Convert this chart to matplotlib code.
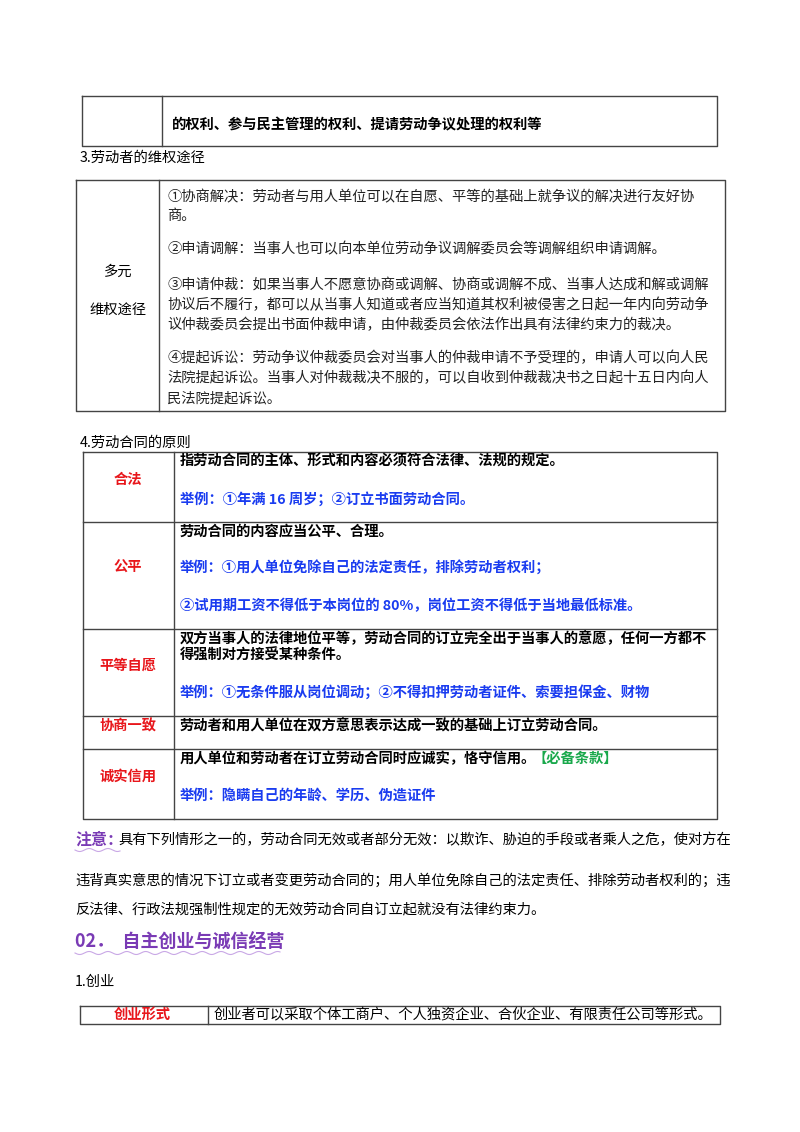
import numpy as np
import matplotlib.pyplot as plt

plt.rcParams['font.family'] = ['Noto Sans CJK SC', 'DejaVu Sans']

RED = "#e8161b"
BLUE = "#1a3cf0"
GREEN = "#19a84b"
PURPLE = "#7a3bb5"

top_row_text = "的权利、参与民主管理的权利、提请劳动争议处理的权利等"

weiquan_title = ["多元", "维权途径"]
weiquan_lines = [
    "①协商解决：劳动者与用人单位可以在自愿、平等的基础上就争议的解决进行友好协",
    "商。",
    "②申请调解：当事人也可以向本单位劳动争议调解委员会等调解组织申请调解。",
    "③申请仲裁：如果当事人不愿意协商或调解、协商或调解不成、当事人达成和解或调解",
    "协议后不履行，都可以从当事人知道或者应当知道其权利被侵害之日起一年内向劳动争",
    "议仲裁委员会提出书面仲裁申请，由仲裁委员会依法作出具有法律约束力的裁决。",
    "④提起诉讼：劳动争议仲裁委员会对当事人的仲裁申请不予受理的，申请人可以向人民",
    "法院提起诉讼。当事人对仲裁裁决不服的，可以自收到仲裁裁决书之日起十五日内向人",
    "民法院提起诉讼。",
]
weiquan_y = [197, 216, 249, 285, 305, 325, 358, 378, 398]

principles = ["合法", "公平", "平等自愿", "协商一致", "诚实信用"]
principle_y = [480, 568, 666, 726, 777]
row_lines = [452, 522, 629, 716, 749, 819]
# (text, color, y)
principle_text = [
    ("指劳动合同的主体、形式和内容必须符合法律、法规的规定。", "black", 462),
    ("举例：①年满 16 周岁；②订立书面劳动合同。", BLUE, 499),
    ("劳动合同的内容应当公平、合理。", "black", 532),
    ("举例：①用人单位免除自己的法定责任，排除劳动者权利；", BLUE, 568),
    ("②试用期工资不得低于本岗位的 80%，岗位工资不得低于当地最低标准。", BLUE, 606),
    ("双方当事人的法律地位平等，劳动合同的订立完全出于当事人的意愿，任何一方都不", "black", 639),
    ("得强制对方接受某种条件。", "black", 656),
    ("举例：①无条件服从岗位调动；②不得扣押劳动者证件、索要担保金、财物", BLUE, 692),
    ("劳动者和用人单位在双方意思表示达成一致的基础上订立劳动合同。", "black", 726),
    ("用人单位和劳动者在订立劳动合同时应诚实，恪守信用。", "black", 759),
    ("举例：隐瞒自己的年龄、学历、伪造证件", BLUE, 796),
]

note_lines = [
    "具有下列情形之一的，劳动合同无效或者部分无效：以欺诈、胁迫的手段或者乘人之危，使对方在",
    "违背真实意思的情况下订立或者变更劳动合同的；用人单位免除自己的法定责任、排除劳动者权利的；违",
    "反法律、行政法规强制性规定的无效劳动合同自订立起就没有法律约束力。",
]
note_y = [840, 880, 909]

fig = plt.figure(figsize=(8, 11.32), dpi=100)
ax = fig.add_axes([0, 0, 1, 1])
ax.set_xlim(0, 800)
ax.set_ylim(1132, 0)
ax.axis("off")

def box(x0, x1, y0, y1, xs=(), ys=(), lw=1.0):
    ax.plot([x0, x1, x1, x0, x0], [y0, y0, y1, y1, y0], color="#444", lw=lw)
    for x in xs:
        ax.plot([x, x], [y0, y1], color="#444", lw=lw)
    for y in ys:
        ax.plot([x0, x1], [y, y], color="#444", lw=lw)

def wave(x0, x1, y):
    xx = np.linspace(x0, x1, 200)
    ax.plot(xx, y + 1.5 * np.sin((xx - x0) / 3.0), color="#c9a8e6", lw=0.8)

fs = 10.3

# top table
box(82, 717, 96, 146, xs=[162])
ax.text(172, 125, top_row_text, fontsize=fs, weight="bold", va="center")

ax.text(80, 158, "3.劳动者的维权途径", fontsize=fs, va="center")

# rights table
box(76, 725, 180, 411, xs=[159])
ax.text(118, 272, weiquan_title[0], fontsize=fs, ha="center", va="center")
ax.text(118, 310, weiquan_title[1], fontsize=fs, ha="center", va="center")
for t, y in zip(weiquan_lines, weiquan_y):
    ax.text(167, y, t, fontsize=fs, va="center", color="#222")

ax.text(80, 443, "4.劳动合同的原则", fontsize=fs, va="center")

# principle table
box(83, 717, row_lines[0], row_lines[-1], xs=[174], ys=row_lines[1:-1])
for t, y in zip(principles, principle_y):
    ax.text(128, y, t, fontsize=fs, weight="bold", color=RED, ha="center", va="center")
for t, c, y in principle_text:
    txt = ax.text(180, y, t, fontsize=fs, weight="bold", color=c, va="center")
    if t.startswith("用人单位和劳动者"):
        fig.canvas.draw()
        bb = txt.get_window_extent().transformed(ax.transData.inverted())
        ax.text(bb.x1 - 4, y, "【必备条款】", fontsize=fs, weight="bold", color=GREEN, va="center")

# note paragraph
ax.text(75, note_y[0], "注意：", fontsize=11.5, weight="bold", color=PURPLE, va="center")
wave(75, 120, 850)
ax.text(118, note_y[0], note_lines[0], fontsize=fs, va="center")
for t, y in zip(note_lines[1:], note_y[1:]):
    ax.text(75, y, t, fontsize=fs, va="center")

# section heading
ax.text(75, 942, "02．  自主创业与诚信经营", fontsize=13, weight="bold", color=PURPLE, va="center")
wave(75, 280, 953)

ax.text(75, 982, "1.创业", fontsize=fs, va="center")

box(80, 720, 1006, 1024, xs=[208])
ax.text(142, 1015, "创业形式", fontsize=fs, weight="bold", color=RED, ha="center", va="center")
ax.text(214, 1015, "创业者可以采取个体工商户、个人独资企业、合伙企业、有限责任公司等形式。",
        fontsize=fs, va="center")

fig.savefig("out.png", dpi=100)
